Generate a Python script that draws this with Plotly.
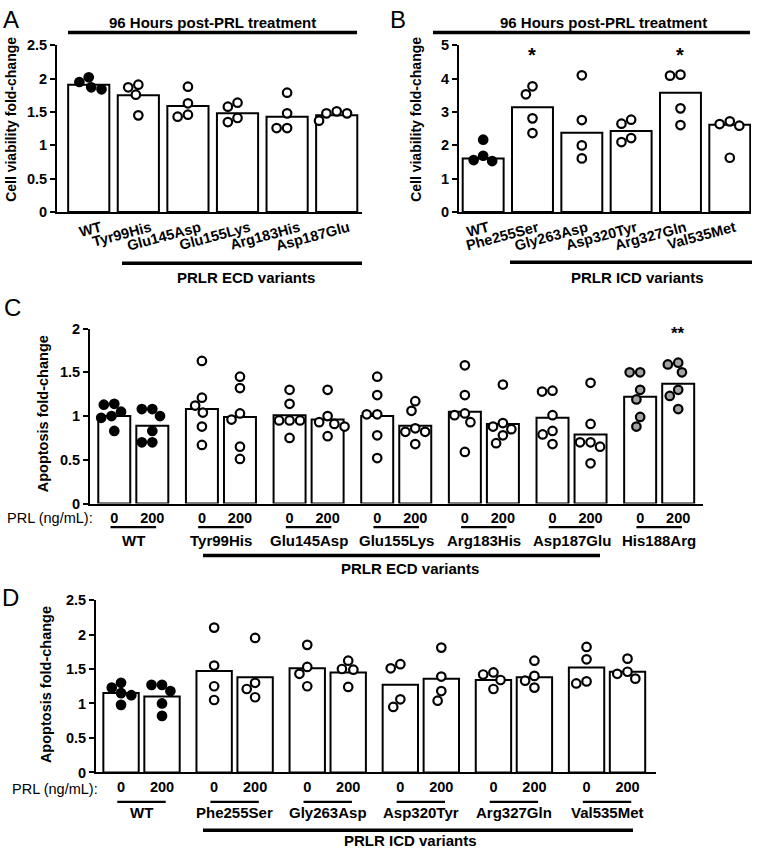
import plotly.graph_objects as go

W, H = 762, 856
F = "Liberation Sans"

# ---------------- data ----------------
A_labels = ["WT", "Tyr99His", "Glu145Asp", "Glu155Lys", "Arg183His", "Asp187Glu"]
A_means = [1.91, 1.75, 1.59, 1.48, 1.43, 1.45]
A_points = [[1.95, 2.02, 1.84, 1.87], [1.87, 1.76, 1.91, 1.45], [1.88, 1.63, 1.43, 1.46],
            [1.64, 1.58, 1.35, 1.41], [1.79, 1.48, 1.26, 1.26], [1.48, 1.37, 1.48, 1.51]]

B_labels = ["WT", "Phe255Ser", "Gly263Asp", "Asp320Tyr", "Arg327Gln", "Val535Met"]
B_means = [1.61, 3.14, 2.38, 2.43, 3.58, 2.62]
B_points = [[2.17, 1.69, 1.53, 1.56], [3.53, 3.77, 2.81, 2.37], [4.10, 2.76, 2.00, 1.61],
            [2.77, 2.65, 2.10, 2.22], [4.09, 4.12, 3.11, 2.61], [2.64, 2.59, 2.72, 1.63]]
B_sig = ["", "*", "", "", "*", ""]

PRL_doses = ["0", "200"]

C_groups = ["WT", "Tyr99His", "Glu145Asp", "Glu155Lys", "Arg183His", "Asp187Glu", "His188Arg"]
C_means_0 = [1.00, 1.08, 1.01, 1.00, 1.05, 0.98, 1.22]
C_means_200 = [0.89, 0.99, 0.96, 0.89, 0.91, 0.79, 1.37]
C_points_0 = [[1.13, 1.14, 1.00, 0.98, 1.05, 0.83], [1.63, 1.21, 1.12, 1.04, 0.88, 0.67],
              [1.30, 1.14, 0.95, 0.95, 0.95, 0.75], [1.45, 1.24, 1.02, 1.02, 0.78, 0.52],
              [1.58, 1.24, 1.01, 1.03, 0.93, 0.59], [1.29, 1.28, 1.01, 0.83, 0.79, 0.68],
              [1.50, 1.50, 1.30, 1.19, 0.99, 0.88]]
C_points_200 = [[1.08, 1.08, 1.00, 0.83, 0.70, 0.70], [1.45, 1.32, 1.03, 0.96, 0.65, 0.51],
                [1.30, 1.00, 0.93, 0.91, 0.88, 0.77], [1.17, 1.06, 0.82, 0.82, 0.86, 0.68],
                [1.36, 0.92, 0.88, 0.85, 0.78, 0.69], [1.38, 0.91, 0.70, 0.70, 0.65, 0.46],
                [1.61, 1.59, 1.50, 1.30, 1.23, 1.08]]
C_sig_200 = ["", "", "", "", "", "", "**"]

D_groups = ["WT", "Phe255Ser", "Gly263Asp", "Asp320Tyr", "Arg327Gln", "Val535Met"]
D_means_0 = [1.15, 1.47, 1.51, 1.27, 1.34, 1.52]
D_means_200 = [1.10, 1.38, 1.45, 1.36, 1.38, 1.46]
D_points_0 = [[1.23, 1.30, 1.12, 1.15, 0.98], [2.10, 1.55, 1.25, 1.05], [1.85, 1.53, 1.43, 1.25],
              [1.57, 1.51, 0.95, 1.06], [1.45, 1.42, 1.34, 1.21], [1.82, 1.64, 1.29, 1.32]]
D_points_200 = [[1.27, 1.27, 1.18, 1.00, 0.82], [1.95, 1.30, 1.21, 1.09], [1.62, 1.50, 1.49, 1.24],
                [1.81, 1.39, 1.18, 1.04], [1.62, 1.40, 1.33, 1.23], [1.65, 1.46, 1.43, 1.36]]

# ---------------- layout geometry (pixels) ----------------
PANELS = {
    "A": dict(x=(57, 362), y=(38, 208), yr=(0, 2.5), xr=(-0.64, 5.51), dtick=0.5),
    "B": dict(x=(459, 751), y=(38, 208), yr=(0, 5), xr=(-0.49, 5.43), dtick=1),
    "C": dict(x=(90, 703), y=(326.7, 505), yr=(0, 2), xr=(-0.494, 6.50), dtick=0.5),
    "D": dict(x=(96, 656), y=(603.3, 779), yr=(0, 2.5), xr=(-0.489, 5.526), dtick=0.5),
}
AX = {"A": "", "B": "2", "C": "3", "D": "4"}
DOT = 10.5
BLACK = "#000000"
GREY = "#a3a3a3"


def ppu(p):
    g = PANELS[p]
    px = (g["x"][1] - g["x"][0]) / (g["xr"][1] - g["xr"][0])
    py = (g["y"][1] - g["y"][0]) / (g["yr"][1] - g["yr"][0])
    return px, py


def swarm(vals, p):
    """Beeswarm offsets (in x data units) so dots do not overlap."""
    pxu, pyu = ppu(p)
    ys = [v * pyu for v in vals]
    order = sorted(range(len(vals)), key=lambda i: -vals[i])
    xs = [0.0] * len(vals)
    placed = []
    for i in order:
        y = ys[i]
        cands = [0.0]
        for j in placed:
            dy = abs(ys[j] - y)
            if dy < DOT:
                dx = (DOT * DOT - dy * dy) ** 0.5
                cands += [xs[j] - dx, xs[j] + dx]
        valid = [c for c in cands
                 if all((xs[j] - c) ** 2 + (ys[j] - y) ** 2 >= DOT * DOT - 1e-6 for j in placed)]
        xs[i] = min(valid, key=lambda c: (round(abs(c), 6), c))
        placed.append(i)
    return [x / pxu for x in xs]


def PX(p):
    return p / W


def PY(p):
    return 1 - p / H


fig = go.Figure()


def add_bars(p, xpos, means, width):
    a = AX[p]
    fig.add_trace(go.Bar(x=xpos, y=means, width=width, xaxis="x" + a, yaxis="y" + a,
                         marker=dict(color="white", line=dict(color=BLACK, width=2)),
                         hoverinfo="skip"))


def add_dots(p, xc, vals, fill):
    a = AX[p]
    offs = swarm(vals, p)
    fig.add_trace(go.Scatter(x=[xc + o for o in offs], y=vals, mode="markers",
                             xaxis="x" + a, yaxis="y" + a, cliponaxis=False,
                             marker=dict(size=8.5, color=fill, line=dict(color=BLACK, width=2.2)),
                             hoverinfo="skip"))


# Panel A
add_bars("A", list(range(len(A_labels))), A_means, 0.83)
for i, pts in enumerate(A_points):
    add_dots("A", i, pts, BLACK if A_labels[i] == "WT" else "white")

# Panel B
add_bars("B", list(range(len(B_labels))), B_means, 0.83)
for i, pts in enumerate(B_points):
    add_dots("B", i, pts, BLACK if B_labels[i] == "WT" else "white")

# Panels C and D (paired bars)
OFF = {"C": 0.217, "D": 0.22}
BW = {"C": 0.365, "D": 0.38}
for p, groups, m0, m200, p0, p200 in [("C", C_groups, C_means_0, C_means_200, C_points_0, C_points_200),
                                       ("D", D_groups, D_means_0, D_means_200, D_points_0, D_points_200)]:
    n = len(groups)
    x0 = [g - OFF[p] for g in range(n)]
    x2 = [g + OFF[p] for g in range(n)]
    add_bars(p, x0, m0, BW[p])
    add_bars(p, x2, m200, BW[p])
    for g in range(n):
        if groups[g] == "WT":
            fill = BLACK
        elif groups[g] == "His188Arg":
            fill = GREY
        else:
            fill = "white"
        add_dots(p, x0[g], p0[g], fill)
        add_dots(p, x2[g], p200[g], fill)

# ---------------- axes ----------------
layout = dict(width=W, height=H, margin=dict(l=0, r=0, t=0, b=0),
              plot_bgcolor="white", paper_bgcolor="white", showlegend=False,
              font=dict(family=F, color=BLACK))

for p, g in PANELS.items():
    a = AX[p]
    layout["xaxis" + a] = dict(domain=[PX(g["x"][0]), PX(g["x"][1])], range=list(g["xr"]),
                               anchor="y" + a, showline=True, linewidth=2, linecolor=BLACK,
                               showgrid=False, zeroline=False, ticks="", fixedrange=True)
    layout["yaxis" + a] = dict(domain=[PY(g["y"][1]), PY(g["y"][0])], range=list(g["yr"]),
                               anchor="x" + a, showline=True, linewidth=2, linecolor=BLACK,
                               showgrid=False, zeroline=False, ticks="outside", ticklen=5,
                               tickwidth=2, tickcolor=BLACK, dtick=g["dtick"], fixedrange=True,
                               tickfont=dict(family=F, size=14.5, color=BLACK, weight="bold"))

for p, labels, shift in [("A", A_labels, 12), ("B", B_labels, 5)]:
    a = AX[p]
    layout["xaxis" + a].update(tickmode="array", tickvals=list(range(len(labels))), ticktext=labels,
                               tickangle=-15, ticklabelshift=shift,
                               tickfont=dict(family=F, size=14.5, color=BLACK, weight="bold"))

for p, groups in [("C", C_groups), ("D", D_groups)]:
    a = AX[p]
    tv, tt = [], []
    for g in range(len(groups)):
        tv += [g - OFF[p], g + OFF[p]]
        tt += PRL_doses
    layout["xaxis" + a].update(tickmode="array", tickvals=tv, ticktext=tt,
                               tickfont=dict(family=F, size=14.5, color=BLACK, weight="bold"))

fig.update_layout(**layout)

# ---------------- annotations & shapes ----------------
anns = []
shapes = []


def ann(text, x, y, size, bold=True, angle=0, xref="paper", yref="paper", xanchor="center"):
    anns.append(dict(text=text, x=x, y=y, xref=xref, yref=yref, showarrow=False, textangle=angle,
                     xanchor=xanchor, yanchor="middle",
                     font=dict(family=F, size=size, color=BLACK, weight="bold" if bold else "normal")))


def hline(x0, x1, y, width, xref="paper"):
    shapes.append(dict(type="line", x0=x0, x1=x1, y0=PY(y), y1=PY(y), xref=xref, yref="paper",
                       line=dict(color=BLACK, width=width)))


# panel letters
for lab, (x, y) in {"A": (11, 12), "B": (398, 12), "C": (12, 305), "D": (10, 601)}.items():
    ann(lab, PX(x), PY(y), 24, bold=False)

# y-axis titles
ann("Cell viability fold-change", PX(11), PY(114), 14, angle=-90)
ann("Cell viability fold-change", PX(416), PY(114), 14, angle=-90)
ann("Apoptosis fold-change", PX(43), PY(414), 14.5, angle=-90)
ann("Apoptosis fold-change", PX(46), PY(690), 14.5, angle=-90)

# A / B headers and footers
ann("96 Hours post-PRL treatment", PX(212), PY(15), 15)
hline(PX(68), PX(357), 25, 3.5)
ann("96 Hours post-PRL treatment", PX(603), PY(15), 15)
hline(PX(433), PX(750), 25, 3.5)
hline(PX(122), PX(362), 260, 3.5)
ann("PRLR ECD variants", PX(246), PY(275), 15)
hline(PX(510), PX(752), 259, 3.5)
ann("PRLR ICD variants", PX(637), PY(275), 15)

# significance stars B
for i, s in enumerate(B_sig):
    if s:
        ann(s, i, 4.72, 20, xref="x2", yref="y2")
# significance stars C
for g, s in enumerate(C_sig_200):
    if s:
        ann(s, g + OFF["C"], 1.94, 17, xref="x3", yref="y3")

# C / D group labels
for p, groups, yline, ylab, ybig, bigx, bigtext, ytxt in [
        ("C", C_groups, 529, 543, 558, (203, 600), "PRLR ECD variants", 571),
        ("D", D_groups, 809, 820, 838, (203, 633), "PRLR ICD variants", 848)]:
    a = AX[p]
    for g, name in enumerate(groups):
        shapes.append(dict(type="line", x0=g - 0.26, x1=g + 0.26, y0=PY(yline), y1=PY(yline),
                           xref="x" + a, yref="paper", line=dict(color=BLACK, width=2.2)))
        ann(name, g, PY(ylab), 15, xref="x" + a)
    hline(PX(bigx[0]), PX(bigx[1]), ybig, 3.5)
    ann(bigtext, PX(410), PY(ytxt), 15)

ann("PRL (ng/mL):", PX(95), PY(520), 14.5, bold=False, xanchor="right")
ann("PRL (ng/mL):", PX(100), PY(796), 14.5, bold=False, xanchor="right")

fig.update_layout(annotations=anns, shapes=shapes)
fig.write_html("out.html", config={"displayModeBar": False, "staticPlot": True},
               post_script="document.body.style.margin='0px';")
